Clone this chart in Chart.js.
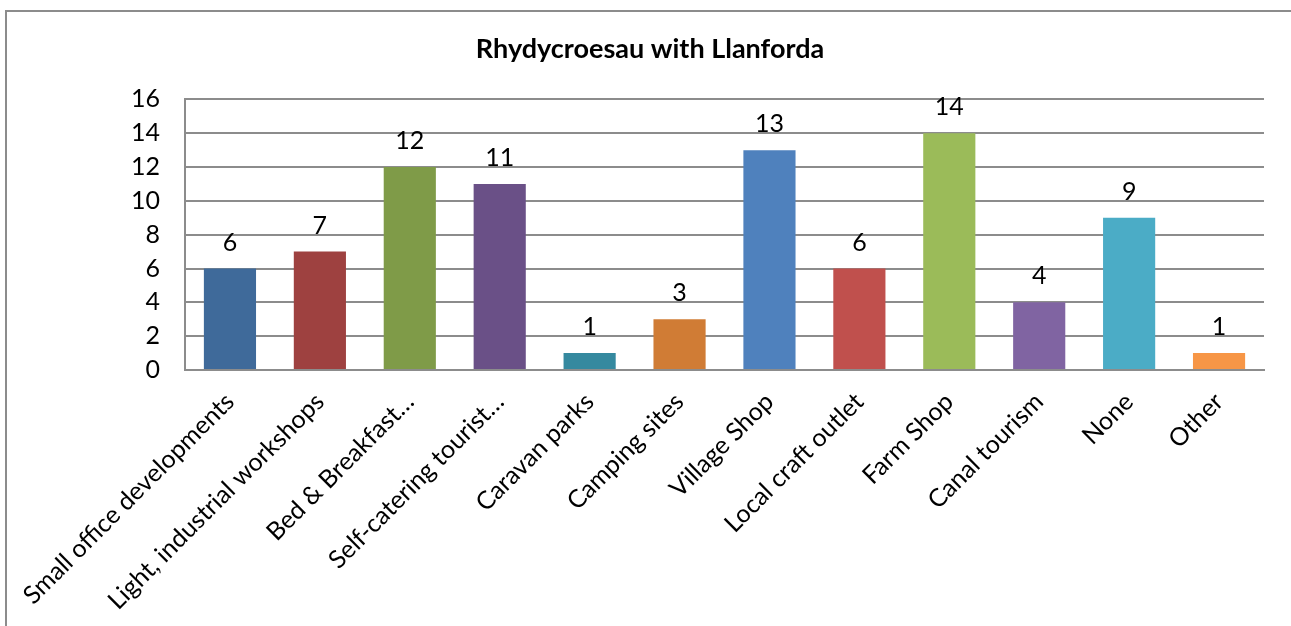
<!DOCTYPE html>
<html>
<head>
<meta charset="utf-8">
<script src="https://cdn.jsdelivr.net/npm/chart.js@4.4.1/dist/chart.umd.min.js"></script>
<style>
  html, body { margin: 0; padding: 0; background: #fff; overflow: hidden; }
  #frame { position: absolute; left: 5px; top: 10px; width: 1300px; height: 640px;
           border: 2px solid #8c8c8c; box-sizing: border-box; }
  #wrap { position: absolute; left: 0; top: 0; width: 1291px; height: 626px; }
</style>
</head>
<body>
<div id="frame"></div>
<div id="wrap"><canvas id="c"></canvas></div>
<script>
// Rhydycroesau with Llanforda — single-series bar chart, value labels on top

const categories = [
  'Small office developments', 'Light, industrial workshops', 'Bed & Breakfast…',
  'Self-catering tourist…', 'Caravan parks', 'Camping sites', 'Village Shop',
  'Local craft outlet', 'Farm Shop', 'Canal tourism', 'None', 'Other'
];
const counts = [6, 7, 12, 11, 1, 3, 13, 6, 14, 4, 9, 1];
const barColours = [
  '#3f6a9a', '#9e4140', '#7f9b48', '#6a5087', '#35899f', '#d07c35',
  '#4f81bd', '#c0504d', '#9bbb59', '#8064a2', '#4bacc6', '#f79646'
];
const yTicks = [0, 2, 4, 6, 8, 10, 12, 14, 16];

const FONT = 'Lato, "Open Sans", sans-serif';

// draws the number above each bar
const valueLabels = {
  id: 'valueLabels',
  afterDatasetsDraw(chart) {
    const { ctx } = chart;
    const meta = chart.getDatasetMeta(0);
    ctx.save();
    ctx.fillStyle = '#000';
    ctx.font = '25px ' + FONT;
    ctx.textAlign = 'center';
    ctx.textBaseline = 'middle';
    meta.data.forEach((bar, i) => {
      ctx.fillText(String(counts[i]), bar.x, bar.y - 26);
    });
    ctx.restore();
  }
};

new Chart(document.getElementById('c'), {
  type: 'bar',
  data: {
    labels: categories,
    datasets: [{
      data: counts,
      backgroundColor: barColours,
      borderWidth: 0,
      barPercentage: 0.58,
      categoryPercentage: 1.0,
    }],
  },
  options: {
    responsive: true,
    maintainAspectRatio: false,
    animation: false,
    // left/right padding chosen so the title centres where the original sits
    layout: { padding: { left: 36, right: 27, top: 0, bottom: 0 } },
    plugins: {
      legend: { display: false },
      tooltip: { enabled: false },
      title: {
        display: true,
        text: 'Rhydycroesau with Llanforda',
        color: '#000',
        font: { family: FONT, size: 27, weight: 'bold' },
        padding: { top: 33, bottom: 34 },
      },
    },
    scales: {
      x: {
        grid: { display: false, drawTicks: false },
        border: { color: '#8c8c8c', width: 2 },
        ticks: {
          color: '#000',
          font: { family: FONT, size: 25 },
          autoSkip: false,
          maxRotation: 45,
          minRotation: 45,
          padding: 17,
        },
        afterFit: (s) => { s.height = 256; },
      },
      y: {
        min: 0,
        max: 16,
        afterBuildTicks: (s) => { s.ticks = yTicks.map(v => ({ value: v })); },
        grid: { color: '#8c8c8c', lineWidth: 2, drawTicks: false },
        border: { color: '#8c8c8c', width: 2 },
        ticks: {
          color: '#000',
          font: { family: FONT, size: 25 },
          padding: 25,
        },
        afterFit: (s) => { s.width = 149; },
      },
    },
  },
  plugins: [valueLabels],
});
</script>
</body>
</html>
